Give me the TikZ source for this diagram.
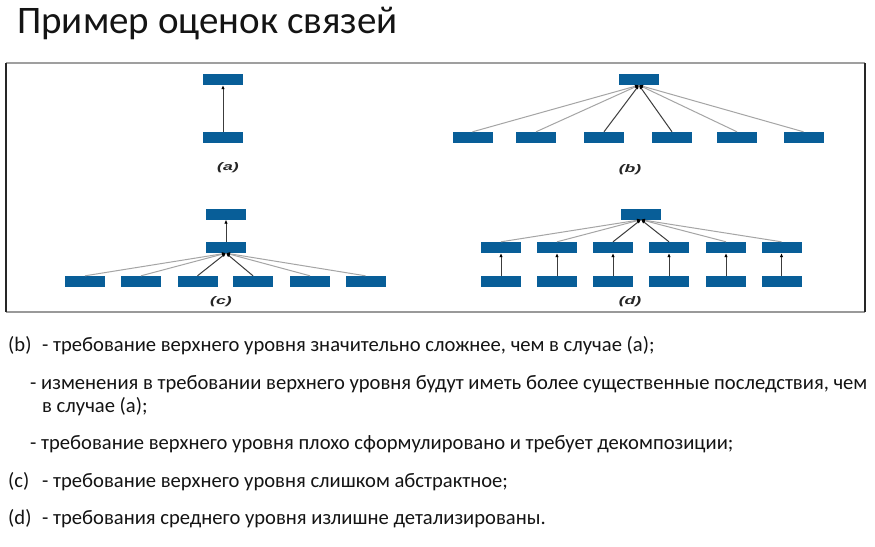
\documentclass[tikz,border=0pt]{standalone}
\usepackage{fontspec}
\usepackage{graphicx}
\setmainfont{Carlito}
\newfontfamily\lblfont{Liberation Sans}
\usetikzlibrary{arrows.meta}
\definecolor{boxblue}{RGB}{8,94,152}
\definecolor{txt}{RGB}{20,20,20}
\definecolor{lightln}{RGB}{165,165,165}
\definecolor{darkln}{RGB}{60,60,60}
\newcommand{\wlbl}[1]{\scalebox{1.6}[1]{#1}}
\tikzset{
  blk/.style={rectangle,fill=boxblue,minimum width=40pt,minimum height=11pt,inner sep=0pt},
  lbl/.style={font=\lblfont\fontsize{11}{12}\selectfont\bfseries\itshape,text=black!85},
  lite/.style={draw=lightln,line width=1pt,-{Latex[length=4pt,width=3.5pt,black]}},
  dark/.style={draw=darkln,line width=1pt,-{Latex[length=4pt,width=3.5pt,black]}},
  bodytxt/.style={anchor=base west,inner sep=0pt,text=txt,font=\fontsize{20.6}{24}\selectfont},
}
\begin{document}
\begin{tikzpicture}[x=1pt,y=-1pt]
\useasboundingbox[fill=white] (0,0) rectangle (875,546);
% title
\node[anchor=base west,inner sep=0pt,text=txt,font=\fontsize{39}{46}\selectfont] (title) at (17,33) {Пример оценок связей};
% frame
\draw[gray!75,line width=1.2pt] (6,63) -- (865,63);
\draw[gray!80,line width=1.5pt] (6,312) -- (865,312);
\draw[black!85,line width=2pt] (6,63) -- (6,312);
\draw[black!85,line width=2pt] (865,63) -- (865,312);
% (a)
\node[blk] (a1) at (223,79.5) {};
\node[blk] (a2) at (223,137.5) {};
\draw[dark] (a2.north) -- (a1.south);
\node[lbl] (la) at (228,168) {\wlbl{(a)}};
% (b)
\node[blk] (b0) at (639,79.5) {};
\foreach \i/\x in {1/472.5,2/536,3/604,4/672,5/737,6/803.5}{
  \node[blk] (b\i) at (\x,137.5) {};
}
\foreach \i in {1,2,5,6}{\draw[lite] (b\i.north) -- (b0.south);}
\foreach \i in {3,4}{\draw[dark] (b\i.north) -- (b0.south);}
\node[lbl] (lb) at (630,170) {\wlbl{(b)}};
% (c)
\node[blk] (c0) at (226,214) {};
\node[blk] (cm) at (226,247.5) {};
\draw[dark] (cm.north) -- (c0.south);
\foreach \i/\x in {1/85,2/141,3/197.5,4/253,5/310,6/365.5}{
  \node[blk] (c\i) at (\x,281.5) {};
}
\foreach \i in {1,2,5,6}{\draw[lite] (c\i.north) -- (cm.south);}
\foreach \i in {3,4}{\draw[dark] (c\i.north) -- (cm.south);}
\node[lbl] (lc) at (221,302) {\wlbl{(c)}};
% (d)
\node[blk] (d0) at (641,214) {};
\foreach \i/\x in {1/501,2/557,3/613,4/669,5/726,6/781.5}{
  \node[blk] (dm\i) at (\x,247.5) {};
  \node[blk] (db\i) at (\x,281.5) {};
  \draw[dark] (db\i.north) -- (dm\i.south);
}
\foreach \i in {1,2,5,6}{\draw[lite] (dm\i.north) -- (d0.south);}
\foreach \i in {3,4}{\draw[dark] (dm\i.north) -- (d0.south);}
\node[lbl] (ld) at (630,302) {\wlbl{(d)}};
% text
\node[bodytxt] (t1a) at (8,351) {(b)};
\node[bodytxt] (t1) at (42,351) {- требование верхнего уровня значительно сложнее, чем в случае (а);};
\node[bodytxt] (t2) at (30,389) {- изменения в требовании верхнего уровня будут иметь более существенные последствия, чем};
\node[bodytxt] (t3) at (42,412) {в случае (а);};
\node[bodytxt] (t4) at (30,449) {- требование верхнего уровня плохо сформулировано и требует декомпозиции;};
\node[bodytxt] (t5a) at (8,487) {(c)};
\node[bodytxt] (t5) at (42,487) {- требование верхнего уровня слишком абстрактное;};
\node[bodytxt] (t6a) at (8,524) {(d)};
\node[bodytxt] (t6) at (42,524) {- требования среднего уровня излишне детализированы.};
\end{tikzpicture}
\end{document}
